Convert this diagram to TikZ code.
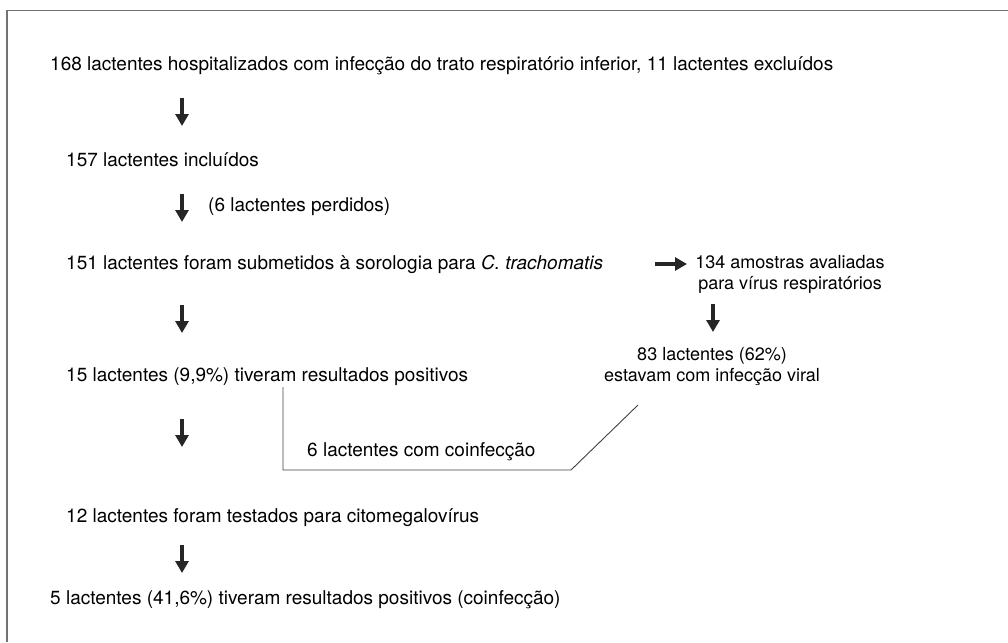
\documentclass[tikz,border=0pt]{standalone}
\usepackage{fontspec}
\setmainfont{TeX Gyre Heros}
\usetikzlibrary{arrows.meta}
\tikzset{
	txt/.style={anchor=west,inner sep=0pt,font=\fontsize{19}{23}\selectfont},
	txtc/.style={anchor=center,inner sep=0pt,align=center,font=\fontsize{18}{21}\selectfont},
	bigarrow/.style={line width=4pt,-{Triangle[length=12pt,width=13pt]},color=black!85},
}
\begin{document}
\begin{tikzpicture}[x=1pt,y=-1pt]
		\useasboundingbox (0,0) rectangle (1008,642);
		\draw [line width=1.5pt,color=black!55] (1008,10.5) -- (7,10.5) -- (7,642);
		% texts
		\node[txt] (n168) at (50,66) {168 lactentes hospitalizados com infecção do trato respiratório inferior, 11 lactentes excluídos};
		\node[txt] (n157) at (66,160) {157 lactentes incluídos};
		\node[txt] (lost) at (208,207) {(6 lactentes perdidos)};
		\node[txt] (n151) at (66,264) {151 lactentes foram submetidos à sorologia para \textit{C. trachomatis}};
		\node[txtc] (n134) at (790,274) {134 amostras avaliadas\\para vírus respiratórios};
		\node[txtc] (n83) at (712,367) {83 lactentes (62\%)\\estavam com infecção viral};
		\node[txt] (n15) at (66,377) {15 lactentes (9,9\%) tiveram resultados positivos};
		\node[txt] (coinf) at (307,452) {6 lactentes com coinfecção};
		\node[txt] (n12) at (66,518) {12 lactentes foram testados para citomegalovírus};
		\node[txt] (n5) at (50,600) {5 lactentes (41,6\%) tiveram resultados positivos (coinfecção)};
		% arrows
		\coordinate (a1s) at (182,98);
		\coordinate (a1e) at (182,126);
		\coordinate (a2s) at (182,194);
		\coordinate (a2e) at (182,222);
		\coordinate (a3s) at (182,305);
		\coordinate (a3e) at (182,333);
		\coordinate (a4s) at (182,419);
		\coordinate (a4e) at (182,447);
		\coordinate (a5s) at (182,545);
		\coordinate (a5e) at (182,573);
		\coordinate (a6s) at (713,304);
		\coordinate (a6e) at (713,332);
		\coordinate (h1s) at (655,264);
		\coordinate (h1e) at (687,264);
		\foreach \a in {a1,a2,a3,a4,a5,a6,h1}
			\draw [bigarrow] (\a s) -- (\a e);
		% coinfection link
		\coordinate (c1) at (283,387);
		\coordinate (c2) at (283,470);
		\coordinate (c3) at (571,470);
		\coordinate (c4) at (638,405);
		\draw [line width=0.9pt,color=black!75] (c1) -- (c2) -- (c3) -- (c4);
	\end{tikzpicture}
\end{document}
